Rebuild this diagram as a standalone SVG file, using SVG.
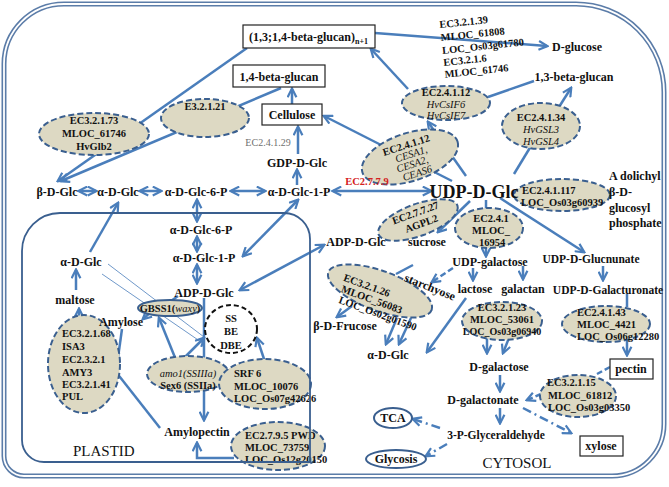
<svg xmlns="http://www.w3.org/2000/svg" width="669" height="487" viewBox="0 0 669 487">
<style>
.l{font-family:"Liberation Serif","Times New Roman",serif;font-weight:bold;font-size:12px;fill:#111;text-anchor:middle}
.s{font-size:10.5px}
.st{text-anchor:start}
.it{font-style:italic;font-weight:normal}
.reg{font-weight:normal}
.c{stroke:#4a7ebb;stroke-width:2.5;fill:none}
.t{stroke:#4a7ebb;stroke-width:0.8;fill:none}
.d{stroke-dasharray:6,3}
.dd{stroke-dasharray:9,4,2,4}
.e{fill:#ddd9c3;stroke:#3a5f8f;stroke-width:2;stroke-dasharray:6,3}
.b{fill:#fff;stroke:#222;stroke-width:1.2}
.o{fill:#fff;stroke:#3a5f8f;stroke-width:2}
</style>
<defs>
<marker id="ah" viewBox="0 0 10 10" refX="8.5" refY="5" markerWidth="11" markerHeight="11" markerUnits="userSpaceOnUse" orient="auto-start-reverse">
<path d="M1,1 L9,5 L1,9" fill="none" stroke="#4a7ebb" stroke-width="2"/>
</marker>
</defs>
<rect width="669" height="487" fill="#fff"/>
<g id="cell-border">
<path d="M64,4 H576 A88,88 0 0 1 664,92 V424 A52,52 0 0 1 612,476 H24 A20,20 0 0 1 4,456 V64 A60,60 0 0 1 64,4 Z" fill="none" stroke="#5b7ca8" stroke-width="5"/>
<path d="M64,4 H576 A88,88 0 0 1 664,92 V424 A52,52 0 0 1 612,476 H24 A20,20 0 0 1 4,456 V64 A60,60 0 0 1 64,4 Z" fill="none" stroke="#fff" stroke-width="1.8"/>
</g>
<g id="connectors">
<path class="c" d="M375,33 L547,46" marker-end="url(#ah)"/>
<path class="c" d="M247,48 L58,181" marker-end="url(#ah)"/>
<path class="c" d="M281,88 L61,181" marker-end="url(#ah)"/>
<path class="c" d="M292,104 L292,89" marker-end="url(#ah)"/>
<path class="c" d="M298,154 L298,127" marker-end="url(#ah)"/>
<path class="c" d="M297,185 L297,170" marker-end="url(#ah)"/>
<path class="c" d="M333,191 L431,191" marker-start="url(#ah)" marker-end="url(#ah)"/>
<path class="c" d="M79,191 L96,191" marker-start="url(#ah)" marker-end="url(#ah)"/>
<path class="c" d="M140,191 L161,191" marker-start="url(#ah)" marker-end="url(#ah)"/>
<path class="c" d="M231,191 L265,191" marker-start="url(#ah)" marker-end="url(#ah)"/>
<path class="c" d="M197,200 L197,221" marker-start="url(#ah)" marker-end="url(#ah)"/>
<path class="c" d="M197,237 L197,251" marker-start="url(#ah)" marker-end="url(#ah)"/>
<path class="c" d="M197,265 L197,283" marker-start="url(#ah)" marker-end="url(#ah)"/>
<path class="c" d="M298,200 L243,256" marker-start="url(#ah)" marker-end="url(#ah)"/>
<path class="c" d="M324,245 L240,290" marker-start="url(#ah)" marker-end="url(#ah)"/>
<path class="c" d="M90,252 L118,203" marker-end="url(#ah)"/>
<path class="c" d="M76,290 L76,270" marker-end="url(#ah)"/>
<path class="c" d="M79,322 L79,309" marker-end="url(#ah)"/>
<path class="c" d="M152,311 L143,319" marker-end="url(#ah)"/>
<path class="c" d="M178,296 L171,301"/>
<path class="c" d="M204,298 L204,420" marker-end="url(#ah)"/>
<path class="c" d="M176,360 L159,318" marker-end="url(#ah)"/>
<path class="c" d="M182,360 L204,338" marker-end="url(#ah)"/>
<path class="c" d="M265,362 L257,338" marker-end="url(#ah)"/>
<path class="t" d="M108,264 L204,337"/>
<path class="t" d="M102,274 L204,344"/>
<path class="c" d="M122,329 L116,372"/>
<path class="c" d="M160,428 L116,372"/>
<path class="c" d="M234,458 L197,458 L197,443" marker-end="url(#ah)"/>
<path class="c" d="M452,181 L324,116" marker-end="url(#ah)"/>
<path class="c" d="M466,176 L428,122" marker-end="url(#ah)"/>
<path class="c" d="M408,89 L371,49" marker-end="url(#ah)"/>
<path class="c" d="M488,97 L534,81"/>
<path class="c" d="M514,174 L531,146"/>
<path class="c" d="M559,107 L571,88" marker-end="url(#ah)"/>
<path class="c" d="M512,193 L520,196"/>
<path class="c" d="M486,200 L486,209"/>
<path class="c" d="M486,246 L486,256" marker-end="url(#ah)"/>
<path class="c" d="M470,201 L438,232" marker-end="url(#ah)"/>
<path class="c" d="M500,198 L584,252" marker-end="url(#ah)"/>
<path class="c" d="M603,266 L603,280" marker-end="url(#ah)"/>
<path class="c" d="M473,268 L473,280" marker-end="url(#ah)"/>
<path class="c" d="M523,266 L523,279" marker-end="url(#ah)"/>
<path class="c d" d="M453,268 L432,282" marker-end="url(#ah)"/>
<path class="c" d="M396,274 L413,265"/>
<path class="c" d="M352,306 L337,317" marker-end="url(#ah)"/>
<path class="c" d="M397,318 L386,344" marker-end="url(#ah)"/>
<path class="c" d="M411,318 L399,344" marker-end="url(#ah)"/>
<path class="c" d="M466,298 L427,352" marker-end="url(#ah)"/>
<path class="c" d="M487,338 L487,353" marker-end="url(#ah)"/>
<path class="c" d="M509,338 L503,353" marker-end="url(#ah)"/>
<path class="c" d="M500,375 L500,391" marker-end="url(#ah)"/>
<path class="c" d="M500,408 L500,423" marker-end="url(#ah)"/>
<path class="c dd" d="M440,428 L413,419" marker-end="url(#ah)"/>
<path class="c dd" d="M447,444 L426,456" marker-end="url(#ah)"/>
<path class="c dd" d="M523,408 L571,433" marker-end="url(#ah)"/>
<path class="c d" d="M541,394 L527,400" marker-end="url(#ah)"/>
<path class="c d" d="M610,367 L597,374"/>
<path class="c" d="M627,294 L627,307"/>
<path class="c" d="M627,340 L627,355" marker-end="url(#ah)"/>
</g>
<g id="box-1314"><rect class="b" x="243" y="25" width="132" height="23"/><text class="l" x="249" y="41" style="text-anchor:start">(1,3;1,4-beta-glucan)<tspan font-size="8" dy="3">n+1</tspan></text></g>
<g id="box-14"><rect class="b" x="233" y="65" width="92" height="22"/><text class="l" x="279" y="81">1,4-beta-glucan</text></g>
<g id="cellulose"><rect class="b" x="262" y="104" width="60" height="21"/><text class="l" x="292" y="119">Cellulose</text></g>
<g id="ec24129"><text class="l reg" x="268" y="146" style="font-size:10px;fill:#707070">EC2.4.1.29</text></g>
<g id="gdp"><text class="l" x="297" y="167">GDP-D-Glc</text></g>
<g id="e32121"><ellipse class="e" cx="205" cy="118" rx="44" ry="19"/><text class="l s" x="205" y="110">E3.2.1.21</text></g>
<g id="ec32173"><ellipse class="e" cx="94" cy="134" rx="55" ry="21"/><text class="l s" x="94" y="124">EC3.2.1.73</text><text class="l s" x="94" y="137">MLOC_61746</text><text class="l s" x="94" y="150">HvGlb2</text></g>
<g id="ec32139" transform="rotate(-6 442 50)"><text class="l s st" x="442" y="28">EC3.2.1.39</text><text class="l s st" x="442" y="41">MLOC_61808</text><text class="l s st" x="442" y="54">LOC_Os03g61780</text><text class="l s st" x="442" y="66">EC3.2.1.6</text><text class="l s st" x="442" y="78">MLOC_61746</text></g>
<g id="dglucose"><text class="l" x="577" y="51">D-glucose</text></g>
<g id="b13glucan"><text class="l" x="574" y="81">1,3-beta-glucan</text></g>
<g id="hvcslf"><ellipse class="e" cx="446" cy="103" rx="44" ry="17"/><text class="l s" x="446" y="96">EC2.4.1.12</text><text class="l s it" x="446" y="108">HvCsIF6</text><text class="l s it" x="446" y="119">HvCsIF7</text></g>
<g id="hvgsl"><ellipse class="e" cx="541" cy="126" rx="39" ry="23"/><text class="l s" x="541" y="121">EC2.4.1.34</text><text class="l s it" x="541" y="133">HvGSL3</text><text class="l s it" x="541" y="145">HvGSL4</text></g>
<g id="cesa" transform="rotate(-18 410 157)"><ellipse class="e" cx="410" cy="157" rx="50" ry="24"/><text class="l s" x="410" y="148">EC2.4.1.12</text><text class="l s it" x="412" y="158">CESA1,</text><text class="l s it" x="410" y="168">CESA2,</text><text class="l s it" x="412" y="178">CEAS6</text></g>
<g id="ec24117"><ellipse class="e" cx="562" cy="195" rx="48" ry="16"/><text class="l s st" x="522" y="194">EC2.4.1.117</text><text class="l s st" x="521" y="206">LOC_Os03g60939</text></g>
<g id="udpglc"><text class="l" x="474" y="198" style="font-size:18px">UDP-D-Glc</text></g>
<g id="ec2779"><text class="l" x="367" y="185" style="font-size:10.5px;fill:#d42020">EC2.7.7.9</text></g>
<g id="dolichyl"><text class="l st" x="609" y="180">A dolichyl</text><text class="l st" x="609" y="196">β-D-</text><text class="l st" x="609" y="212">glucosyl</text><text class="l st" x="609" y="227">phosphate</text></g>
<g id="agpl2" transform="rotate(-20 418 220)"><ellipse class="e" cx="418" cy="220" rx="42" ry="16"/><text class="l s" x="418" y="216">EC2.7.7.27</text><text class="l s" x="420" y="228">AGPL2</text></g>
<g id="ec241"><ellipse class="e" cx="489" cy="228" rx="34" ry="20"/><text class="l s" x="491" y="222">EC2.4.1</text><text class="l s" x="491" y="234">MLOC_</text><text class="l s" x="492" y="246">16954</text></g>
<g id="adpglc-cyto"><text class="l" x="356" y="246">ADP-D-Glc</text></g>
<g id="sucrose"><text class="l" x="427" y="246">sucrose</text></g>
<g id="udpgal"><text class="l" x="490" y="266">UDP-galactose</text></g>
<g id="udpglcn"><text class="l" x="591" y="263" style="font-size:11.5px">UDP-D-Glucnunate</text></g>
<g id="udpgalac"><text class="l" x="608" y="294" style="font-size:11.5px">UDP-D-Galacturonate</text></g>
<g id="lactose"><text class="l" x="475" y="293">lactose</text></g>
<g id="galactan"><text class="l" x="523" y="293">galactan</text></g>
<g id="ec32126"><ellipse class="e" cx="380" cy="291" rx="55" ry="20" transform="rotate(20 380 291)"/><text class="l s" x="367" y="289" transform="rotate(20 367 285)">EC3.2.1.26</text><text class="l s" x="372" y="303" transform="rotate(20 372 299)">MLOC_56083</text><text class="l s" x="378" y="317" transform="rotate(20 378 313)">LOC_Os02g01590</text></g>
<g id="starchyose"><text class="l" x="430" y="291" transform="rotate(22 430 287)">starchyose</text></g>
<g id="bfrucose"><text class="l" x="345" y="330">β-D-Frucose</text></g>
<g id="aglc-cyto2"><text class="l" x="388" y="359">α-D-Glc</text></g>
<g id="ec32123"><ellipse class="e" cx="502" cy="321" rx="40" ry="19"/><text class="l s" x="502" y="311">EC3.2.1.23</text><text class="l s" x="502" y="323">MLOC_53061</text><text class="l s" x="502" y="335" style="font-size:10px">LOC_Os03g06940</text></g>
<g id="dgalactose"><text class="l" x="499" y="371">D-galactose</text></g>
<g id="dgalactonate"><text class="l" x="483" y="404">D-galactonate</text></g>
<g id="p3gly"><text class="l" x="496" y="439" style="font-size:11.5px">3-P-Glyceraldehyde</text></g>
<g id="tca"><ellipse class="o" cx="393" cy="418" rx="19" ry="10"/><text class="l" x="393" y="422">TCA</text></g>
<g id="glycosis"><ellipse class="o" cx="396" cy="459" rx="30" ry="9"/><text class="l" x="396" y="463">Glycosis</text></g>
<g id="cytosol"><text class="l reg" x="517" y="468" style="font-size:15px">CYTOSOL</text></g>
<g id="xylose"><rect class="b" x="580" y="436" width="43" height="20"/><text class="l" x="601" y="450">xylose</text></g>
<g id="ec32115"><ellipse class="e" cx="578" cy="396" rx="38" ry="21"/><text class="l s st" x="547" y="386">EC3.2.1.15</text><text class="l s st" x="548" y="399">MLOC_61812</text><text class="l s st" x="548" y="411">LOC_Os03g03350</text></g>
<g id="pectin"><rect class="b" x="610" y="359" width="43" height="20"/><text class="l" x="631" y="373">pectin</text></g>
<g id="ec24143"><ellipse class="e" cx="606" cy="324" rx="44" ry="18"/><text class="l s st" x="577" y="316">EC2.4.1.43</text><text class="l s st" x="577" y="328">MLOC_4421</text><text class="l s st" x="577" y="340">LOC_Os06g12280</text></g>
<g id="bglc"><text class="l" x="57" y="196">β-D-Glc</text></g>
<g id="aglc-cyto"><text class="l" x="118" y="196">α-D-Glc</text></g>
<g id="aglc6p-cyto"><text class="l" x="196" y="196">α-D-Glc-6-P</text></g>
<g id="aglc1p-cyto"><text class="l" x="299" y="196">α-D-Glc-1-P</text></g>
<g id="aglc6p-pl"><text class="l" x="201" y="234">α-D-Glc-6-P</text></g>
<g id="aglc1p-pl"><text class="l" x="204" y="262">α-D-Glc-1-P</text></g>
<g id="adpglc-pl"><text class="l" x="204" y="297">ADP-D-Glc</text></g>
<g id="aglc-pl"><text class="l" x="81" y="266">α-D-Glc</text></g>
<g id="maltose"><text class="l" x="75" y="304">maltose</text></g>
<g id="isa3"><ellipse class="e" cx="84" cy="364" rx="36" ry="49"/><text class="l s st" x="62" y="337">EC3.2.1.68</text><text class="l s st" x="62" y="350">ISA3</text><text class="l s st" x="62" y="363">EC2.3.2.1</text><text class="l s st" x="62" y="376">AMY3</text><text class="l s st" x="62" y="388">EC3.2.1.41</text><text class="l s st" x="62" y="400">PUL</text></g>
<g id="gbss1"><ellipse cx="170" cy="308" rx="32" ry="8" fill="#ddd9c3" stroke="#3a5f8f" stroke-width="2"/><text class="l s" x="170" y="312">GBSS1(<tspan class="it">waxy</tspan>)</text></g>
<g id="amylose"><text class="l" x="121" y="326">Amylose</text></g>
<g id="ssbe"><ellipse cx="231" cy="329" rx="26" ry="24" fill="#fff" stroke="#111" stroke-width="2" stroke-dasharray="5,3"/><text class="l s" x="231" y="322">SS</text><text class="l s" x="231" y="335">BE</text><text class="l s" x="231" y="349">DBE</text></g>
<g id="amo1"><ellipse class="e" cx="188" cy="374" rx="41" ry="18"/><text class="l s it" x="188" y="377">amo1(SSIIIa)</text><text class="l s" x="188" y="389">Sex6 (SSIIa)</text></g>
<g id="srf6"><ellipse class="e" cx="265" cy="384" rx="46" ry="25"/><text class="l s st" x="234" y="377">SRF 6</text><text class="l s st" x="234" y="390">MLOC_10076</text><text class="l s st" x="234" y="402">LOC_Os07g42626</text></g>
<g id="amylopectin"><text class="l" x="197" y="436">Amylopectin</text></g>
<g id="pwd"><ellipse class="e" cx="278" cy="446" rx="47" ry="24"/><text class="l s st" x="245" y="439">EC2.7.9.5 PWD</text><text class="l s st" x="245" y="451">MLOC_73759</text><text class="l s st" x="245" y="463">LOC_Os12g20150</text></g>
<g id="plastid">
<path d="M60,213 H284 A26,26 0 0 1 310,239 V462 H44 A22,22 0 0 1 22,440 V251 A38,38 0 0 1 60,213 Z" fill="none" stroke="#3a5f8f" stroke-width="1.8"/>
<text class="l reg st" x="73" y="456" style="font-size:15px">PLASTID</text>
</g>
</svg>
